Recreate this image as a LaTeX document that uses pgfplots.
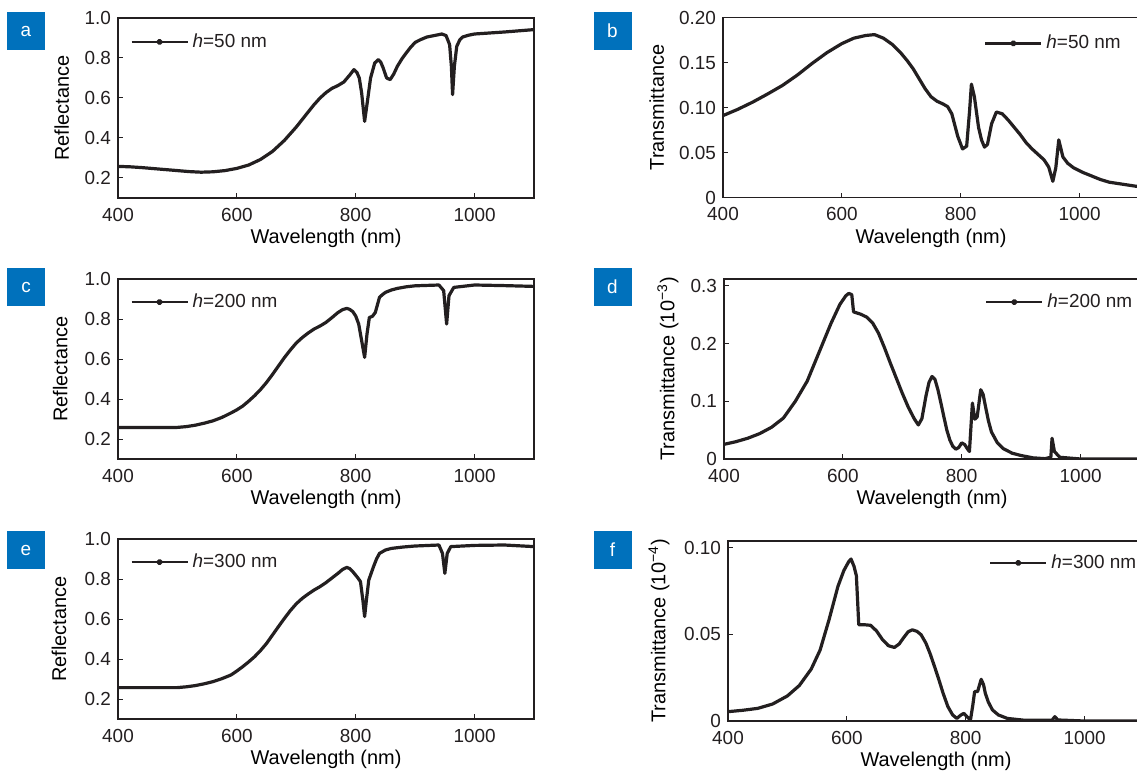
\documentclass[border=0pt]{standalone}
\usepackage{fontspec}
\setmainfont{Liberation Sans}
\usepackage{pgfplots}
\pgfplotsset{compat=1.18}
\definecolor{panelblue}{HTML}{0071BC}
\definecolor{ink}{HTML}{231F20}

\newcommand{\txt}{\fontsize{9.5}{11}\selectfont}

\pgfplotsset{
  panel/.style={
    scale only axis, width=208bp, height=90bp,
    anchor=north west,
    xmin=400, xmax=1100,
    xtick={400,600,800,1000}, xticklabels={400,600,800,1000},
    tick align=inside, xtick pos=left, ytick pos=left,
    major tick length=2.5bp,
    tick style={ink, line width=0.5bp},
    axis line style={ink, line width=0.6bp},
    tick label style={font=\txt, text=ink},
    xticklabel style={yshift=-1.5bp},
    label style={font=\txt, text=ink},
    xlabel={Wavelength (nm)},
    every axis x label/.style={at={(axis description cs:0.5,-0.225)}, anchor=center},
    legend style={draw=none, fill=none, inner sep=0pt, font=\txt, text=ink,
      anchor=west, legend cell align=left},
    legend image code/.code={\draw[line width=1.1bp, ink] (0bp,0bp) -- (28bp,0bp);
      \fill[ink] (14bp,0bp) circle (0.8bp);},
  },
  curve/.style={ink, line width=1.6bp, line join=round, mark=none},
  refl/.style={ymin=0.1, ymax=1.0, ytick={0.2,0.4,0.6,0.8,1.0},
    yticklabels={0.2,0.4,0.6,0.8,1.0}, ylabel={Reflectance}},
}

\begin{document}
\begin{tikzpicture}

% ---------- a ----------
\begin{axis}[panel, refl, at={(59bp,-9bp)},
  every axis y label/.style={at={(axis description cs:-0.135,0.5)}, rotate=90, anchor=center},
  legend style={at={(axis description cs:0.029,0.867)}}]
\addplot[curve] coordinates {
(400,0.258)(420,0.256)(440,0.252)(460,0.247)(480,0.242)(500,0.237)(520,0.232)
(540,0.229)(560,0.231)(580,0.237)(600,0.248)(620,0.265)(640,0.293)(660,0.333)
(680,0.388)(700,0.455)(720,0.53)(730,0.567)(740,0.6)(750,0.627)(760,0.648)
(770,0.662)(780,0.68)(790,0.715)(797,0.742)(802,0.728)(806,0.7)(810,0.625)
(815,0.483)(820,0.59)(825,0.70)(832,0.775)(838,0.792)(842,0.78)(846,0.752)
(852,0.70)(858,0.692)(864,0.72)(870,0.758)(878,0.797)(885,0.825)(892,0.852)
(900,0.878)(910,0.893)(920,0.905)(935,0.914)(945,0.92)(952,0.912)(958,0.867)
(961,0.758)(963,0.617)(966,0.758)(970,0.858)(975,0.89)(980,0.905)(990,0.914)
(1000,0.92)(1025,0.925)(1050,0.93)(1075,0.936)(1100,0.942)};
\addlegendentry{\textit{h}=50 nm}
\end{axis}

% ---------- b ----------
\begin{axis}[panel, at={(361.5bp,-8.75bp)},
  ymin=0, ymax=0.2, ytick={0,0.05,0.1,0.15,0.2},
  yticklabels={0,0.05,0.10,0.15,0.20}, ylabel={Transmittance},
  every axis y label/.style={at={(axis description cs:-0.159,0.5)}, rotate=90, anchor=center},
  legend style={at={(axis description cs:0.627,0.856)}}]
\addplot[curve] coordinates {
(400,0.091)(425,0.098)(450,0.106)(475,0.115)(500,0.1245)(525,0.136)(550,0.149)
(575,0.161)(600,0.171)(620,0.177)(640,0.18)(655,0.181)(670,0.177)(685,0.17)
(700,0.16)(710,0.152)(720,0.143)(730,0.132)(740,0.121)(750,0.112)(760,0.107)
(770,0.104)(778,0.101)(785,0.093)(795,0.068)(803,0.054)(810,0.057)(815,0.097)
(818,0.126)(823,0.112)(830,0.078)(835,0.064)(840,0.056)(845,0.059)(852,0.082)
(860,0.095)(870,0.093)(880,0.086)(890,0.078)(900,0.07)(910,0.061)(920,0.054)
(930,0.048)(940,0.042)(948,0.034)(955,0.018)(960,0.033)(965,0.064)(972,0.045)
(980,0.038)(990,0.033)(1005,0.028)(1020,0.024)(1035,0.02)(1050,0.017)
(1070,0.015)(1090,0.013)(1100,0.012)};
\addlegendentry{\textit{h}=50 nm}
\end{axis}

% ---------- c ----------
\begin{axis}[panel, refl, at={(59bp,-139.5bp)},
  every axis y label/.style={at={(axis description cs:-0.139,0.5)}, rotate=90, anchor=center},
  legend style={at={(axis description cs:0.029,0.872)}}]
\addplot[curve] coordinates {
(400,0.258)(500,0.258)(515,0.262)(530,0.269)(545,0.279)(560,0.291)(575,0.308)
(590,0.33)(600,0.346)(610,0.365)(620,0.39)(630,0.417)(640,0.448)(650,0.483)
(660,0.523)(670,0.565)(680,0.607)(690,0.645)(700,0.68)(710,0.707)(720,0.73)
(730,0.75)(740,0.765)(750,0.783)(760,0.807)(770,0.832)(778,0.847)(785,0.853)
(790,0.848)(795,0.837)(800,0.815)(805,0.775)(810,0.692)(815,0.608)(819,0.725)
(823,0.808)(828,0.813)(833,0.833)(840,0.908)(845,0.922)(850,0.933)(860,0.945)
(870,0.953)(885,0.961)(900,0.966)(940,0.97)(948,0.942)(953,0.775)(957,0.917)
(965,0.958)(1000,0.97)(1050,0.967)(1100,0.963)};
\addlegendentry{\textit{h}=200 nm}
\end{axis}

% ---------- d ----------
\begin{axis}[panel, at={(362bp,-139.5bp)},
  ymin=0, ymax=0.312, ytick={0,0.1,0.2,0.3},
  yticklabels={0,0.1,0.2,0.3}, ylabel={Transmittance (10\textsuperscript{−3})},
  every axis y label/.style={at={(axis description cs:-0.135,0.5)}, rotate=90, anchor=center},
  legend style={at={(axis description cs:0.627,0.872)}}]
\addplot[curve] coordinates {
(400,0.0254)(420,0.03)(440,0.036)(460,0.044)(480,0.055)(500,0.071)(520,0.1)
(540,0.135)(560,0.185)(580,0.235)(595,0.268)(605,0.283)(610,0.287)(615,0.285)
(618,0.255)(630,0.251)(640,0.246)(650,0.236)(660,0.218)(670,0.193)(680,0.166)
(690,0.14)(700,0.114)(710,0.09)(720,0.07)(727,0.059)(733,0.07)(740,0.11)
(745,0.133)(750,0.143)(755,0.138)(760,0.12)(765,0.097)(770,0.073)(775,0.05)
(780,0.033)(785,0.022)(790,0.017)(795,0.02)(800,0.028)(805,0.025)(810,0.017)
(813,0.013)(818,0.097)(822,0.069)(826,0.073)(832,0.12)(836,0.112)(840,0.091)
(845,0.066)(850,0.047)(860,0.028)(870,0.018)(885,0.01)(900,0.006)(920,0.002)
(940,0.0006)(950,0.003)(952,0.036)(956,0.013)(965,0.003)(1000,0)(1100,0)};
\addlegendentry{\textit{h}=200 nm}
\end{axis}

% ---------- e ----------
\begin{axis}[panel, refl, at={(59bp,-269.5bp)},
  every axis y label/.style={at={(axis description cs:-0.142,0.5)}, rotate=90, anchor=center},
  legend style={at={(axis description cs:0.029,0.872)}}]
\addplot[curve] coordinates {
(400,0.257)(500,0.257)(515,0.261)(530,0.267)(545,0.276)(560,0.287)(575,0.302)
(590,0.32)(600,0.34)(610,0.362)(620,0.386)(630,0.412)(640,0.443)(650,0.478)
(660,0.52)(670,0.562)(680,0.603)(690,0.642)(700,0.676)(710,0.703)(720,0.725)
(730,0.745)(740,0.762)(750,0.782)(760,0.805)(770,0.828)(778,0.848)(785,0.858)
(790,0.852)(795,0.837)(803,0.808)(808,0.787)(812,0.695)(815,0.612)(818,0.695)
(822,0.795)(830,0.862)(835,0.9)(840,0.928)(850,0.945)(860,0.953)(880,0.96)
(900,0.965)(940,0.97)(946,0.928)(950,0.828)(954,0.928)(960,0.962)(1000,0.968)
(1050,0.97)(1100,0.962)};
\addlegendentry{\textit{h}=300 nm}
\end{axis}

% ---------- f ----------
\begin{axis}[panel, at={(364bp,-270.5bp)},
  ymin=0, ymax=0.104, ytick={0,0.05,0.1},
  yticklabels={0,0.05,0.10}, ylabel={Transmittance (10\textsuperscript{−4})},
  every axis y label/.style={at={(axis description cs:-0.166,0.5)}, rotate=90, anchor=center},
  legend style={at={(axis description cs:0.627,0.878)}}]
\addplot[curve] coordinates {
(400,0.0054)(425,0.0062)(450,0.0073)(475,0.0098)(500,0.0145)(520,0.0205)
(540,0.03)(555,0.041)(570,0.0585)(585,0.0778)(595,0.087)(603,0.092)(607,0.0936)
(612,0.0894)(616,0.084)(618,0.07)(620,0.0556)(630,0.0556)(640,0.0553)(650,0.052)
(660,0.047)(670,0.0435)(680,0.0425)(688,0.0445)(695,0.0479)(703,0.0515)
(710,0.0527)(718,0.0518)(725,0.0498)(733,0.045)(740,0.039)(748,0.031)
(755,0.0237)(762,0.016)(770,0.0083)(778,0.0035)(785,0.0015)(792,0.0035)
(797,0.0044)(802,0.0025)(808,0.0006)(812,0.0093)(815,0.017)(820,0.017)
(826,0.0241)(830,0.021)(833,0.016)(838,0.011)(845,0.0064)(855,0.0035)
(870,0.0015)(900,0.0004)(945,0.0004)(950,0.0025)(955,0.0006)(1000,0)(1100,0)};
\addlegendentry{\textit{h}=300 nm}
\end{axis}

% panel tags
\tikzset{tag/.style={fill=panelblue, text=white, minimum width=19bp,
  minimum height=19bp, inner sep=0pt, font=\txt}}
\node[tag] at (13bp,-15.5bp) {a};
\node[tag] at (306.25bp,-15.5bp) {b};
\node[tag] at (13bp,-143.5bp) {c};
\node[tag] at (306.25bp,-143.5bp) {d};
\node[tag] at (13bp,-275bp) {e};
\node[tag] at (306.25bp,-275bp) {f};

\pgfresetboundingbox
\path[use as bounding box] (0bp,0bp) rectangle (568.5bp,-389.5bp);
\end{tikzpicture}
\end{document}
